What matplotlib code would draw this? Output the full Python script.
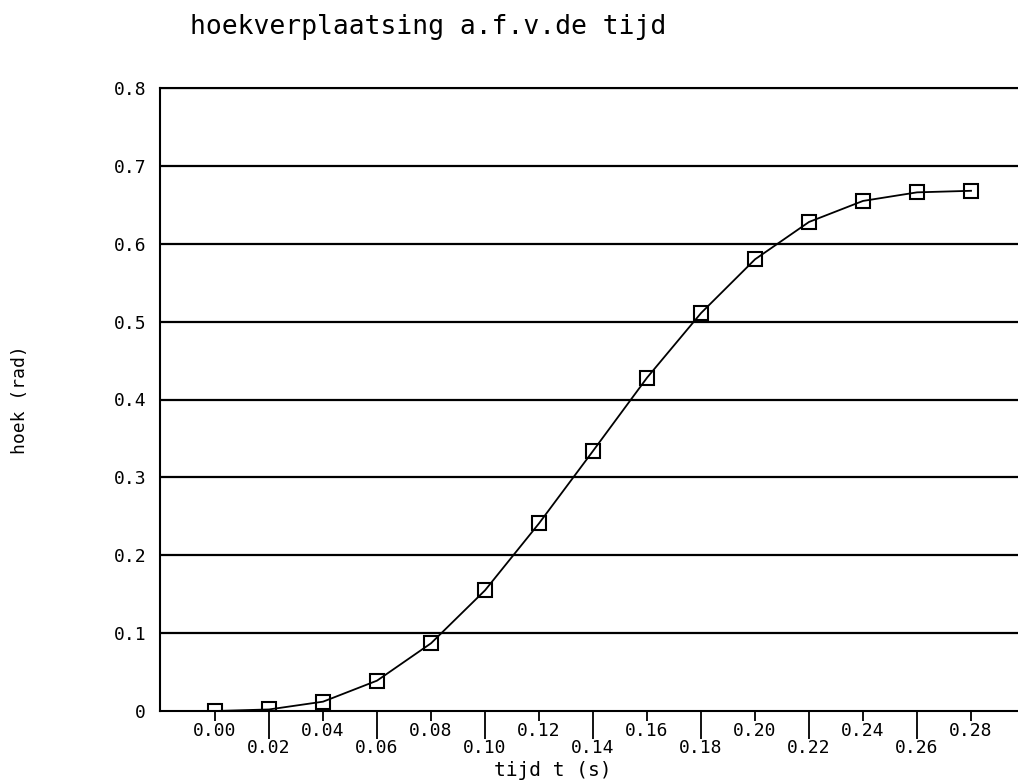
import matplotlib
matplotlib.use("Agg")
import matplotlib.pyplot as plt

# data
tijd = [0.00, 0.02, 0.04, 0.06, 0.08, 0.10, 0.12, 0.14, 0.16, 0.18, 0.20, 0.22, 0.24, 0.26, 0.28]
hoek = [0.000, 0.002, 0.012, 0.039, 0.087, 0.155, 0.241, 0.334, 0.428, 0.511, 0.580, 0.628, 0.655, 0.666, 0.668]
tick_labels = ["0.00", "0.02", "0.04", "0.06", "0.08", "0.10", "0.12", "0.14",
               "0.16", "0.18", "0.20", "0.22", "0.24", "0.26", "0.28"]
y_ticks = [0, 0.1, 0.2, 0.3, 0.4, 0.5, 0.6, 0.7, 0.8]
y_labels = ["0", "0.1", "0.2", "0.3", "0.4", "0.5", "0.6", "0.7", "0.8"]

FONT = "DejaVu Sans Mono"
W, H = 1018, 781
fig = plt.figure(figsize=(W / 100, H / 100), dpi=100)
ax = fig.add_axes([160 / W, 1 - 711 / H, (W - 160) / W, (711 - 88) / H])

for yv in y_ticks[1:]:
    ax.axhline(yv, color="black", lw=1.6, zorder=1)

ax.plot(tijd, hoek, color="black", lw=1.3, marker="s", markersize=10,
        markerfacecolor="none", markeredgecolor="black", markeredgewidth=1.5, zorder=3)

ax.set_xlim(-0.0204, 0.2974)
ax.set_ylim(0, 0.8)

ax.set_yticks(y_ticks)
ax.set_yticklabels(y_labels, fontfamily=FONT, fontsize=13)
ax.tick_params(axis="y", length=0, pad=10)

ax.set_xticks(tijd[::2])
ax.set_xticklabels(tick_labels[::2], fontfamily=FONT, fontsize=13)
ax.set_xticks(tijd[1::2], minor=True)
ax.set_xticklabels(tick_labels[1::2], minor=True, fontfamily=FONT, fontsize=13)
ax.tick_params(axis="x", which="major", length=7, width=1.3, pad=1, direction="out")
ax.tick_params(axis="x", which="minor", length=20, width=1.3, pad=0, direction="out")

for s in ["left", "bottom", "top"]:
    ax.spines[s].set_linewidth(1.5)
ax.spines["right"].set_visible(False)

fig.text(553 / W, 1 - 771 / H, "tijd t (s)", fontfamily=FONT, fontsize=14,
         ha="center", va="center")
fig.text(20 / W, 1 - 400 / H, "hoek (rad)", fontfamily=FONT, fontsize=13,
         ha="center", va="center", rotation=90)
fig.text(428 / W, 1 - 27 / H, "hoekverplaatsing a.f.v.de tijd", fontfamily=FONT,
         fontsize=19, ha="center", va="center")

fig.savefig("out.png", dpi=100)
